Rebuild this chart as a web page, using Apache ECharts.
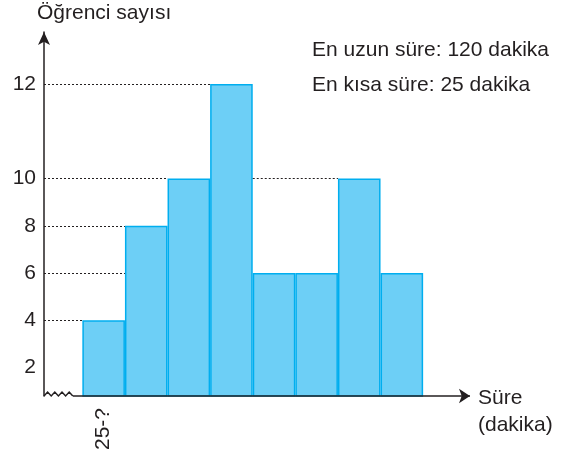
<!DOCTYPE html>
<html>
<head>
<meta charset="utf-8">
<script src="https://cdn.jsdelivr.net/npm/echarts@6/dist/echarts.min.js"></script>
<style>
  html, body { margin: 0; padding: 0; background: #fff; }
  #chart { width: 573px; height: 454px; }
</style>
</head>
<body>
<div id="chart"></div>
<script>
const classLabels = ["25-?", "", "", "", "", "", "", ""]; // sınıflar
const counts = [4, 8, 10, 12, 6, 6, 10, 6]; // öğrenci sayısı
const yTicks = [2, 4, 6, 8, 10, 12];
const notes = ["En uzun süre: 120 dakika", "En kısa süre: 25 dakika"];

const ink = "#231f20";
const font = "Liberation Sans, Arial, sans-serif";
const fs = 21;

// the drawing is not to scale above 10: the 10-12 step takes twice the room
const pos = v => (v > 10 ? 10 + (v - 10) * 2 : v);
const unpos = p => (p > 10 ? 10 + (p - 10) / 2 : p);

const xMin = -0.9, xMax = 9.1, yMin = 0.8, yMax = 16.2;
const gridLeft = 44, gridRight = 103;
const unit = (573 - gridLeft - gridRight) / (xMax - xMin);

// dotted guides: from the y axis to the first bar reaching that level,
// and across a valley to a bar of that height
let guides = [];
yTicks.forEach(L => {
  if (!counts.includes(L)) return;
  const first = counts.findIndex(c => c >= L);
  guides.push([{ coord: [xMin, pos(L)] }, { coord: [first, pos(L)] }]);
});
counts.forEach((c, j) => {
  if (j < 2 || counts[j - 1] >= c) return;
  for (let k = j - 2; k >= 0; k--) {
    if (counts[k] >= c) {
      guides.push([{ coord: [k + 1, pos(c)] }, { coord: [j, pos(c)] }]);
      break;
    }
  }
});

let myChart = echarts.init(document.getElementById("chart"));

// wavy break on the x axis near the origin
let zig = [];
for (let i = 0; i <= 8; i++) zig.push([gridLeft + i * 3.6, 396 - (i % 2) * 4]);

function label(text, x, y) {
  return {
    type: "text",
    x: x,
    y: y,
    style: { text: text, font: fs + "px " + font, fill: ink, verticalAlign: "middle" }
  };
}

myChart.setOption({
  animation: false,
  title: {
    text: "Öğrenci sayısı",
    left: 37,
    top: 3,
    padding: 0,
    textStyle: { fontFamily: font, fontSize: fs, fontWeight: "normal", color: ink }
  },
  grid: { left: gridLeft, right: gridRight, top: 32, bottom: 58 },
  xAxis: {
    type: "value",
    min: xMin,
    max: xMax,
    axisLine: { show: false },
    axisTick: { show: false },
    splitLine: { show: false },
    axisLabel: {
      customValues: classLabels.map((l, i) => (l ? i + 0.5 : null)).filter(v => v !== null),
      formatter: v => classLabels[Math.floor(v)],
      rotate: 90,
      margin: 12,
      fontFamily: font,
      fontSize: fs,
      color: ink
    }
  },
  yAxis: {
    type: "value",
    min: yMin,
    max: yMax,
    axisLine: {
      show: true,
      onZero: false,
      symbol: ["none", "arrow"],
      symbolSize: [9, 13],
      lineStyle: { color: ink, width: 1.5 }
    },
    axisTick: { show: false },
    splitLine: { show: false },
    axisLabel: {
      customValues: yTicks.map(pos),
      formatter: v => String(unpos(v)),
      margin: 8,
      fontFamily: font,
      fontSize: fs,
      color: ink
    }
  },
  graphic: [
    label(notes[0], 312, 50),
    label(notes[1], 312, 85),
    label("Süre", 478, 398),
    label("(dakika)", 478, 425),
    {
      type: "polyline",
      shape: { points: zig },
      style: { stroke: ink, lineWidth: 1.5, fill: null }
    }
  ],
  series: [
    {
      type: "bar",
      barWidth: unit,
      data: counts.map((c, i) => [i + 0.5, pos(c)]),
      itemStyle: { color: "#6dcff6", borderColor: "#00aeef", borderWidth: 1.5 },
      markLine: {
        silent: true,
        symbol: "none",
        label: { show: false },
        lineStyle: { color: ink, width: 1, type: [2, 2] },
        data: guides
      }
    },
    {
      // x axis line, drawn after the wavy break
      type: "line",
      data: [],
      markLine: {
        silent: true,
        symbol: ["none", "arrow"],
        symbolSize: 11,
        label: { show: false },
        lineStyle: { color: ink, width: 1.5, type: "solid" },
        data: [[{ coord: [-0.22, yMin] }, { coord: [xMax, yMin] }]]
      }
    }
  ]
});
</script>
</body>
</html>
